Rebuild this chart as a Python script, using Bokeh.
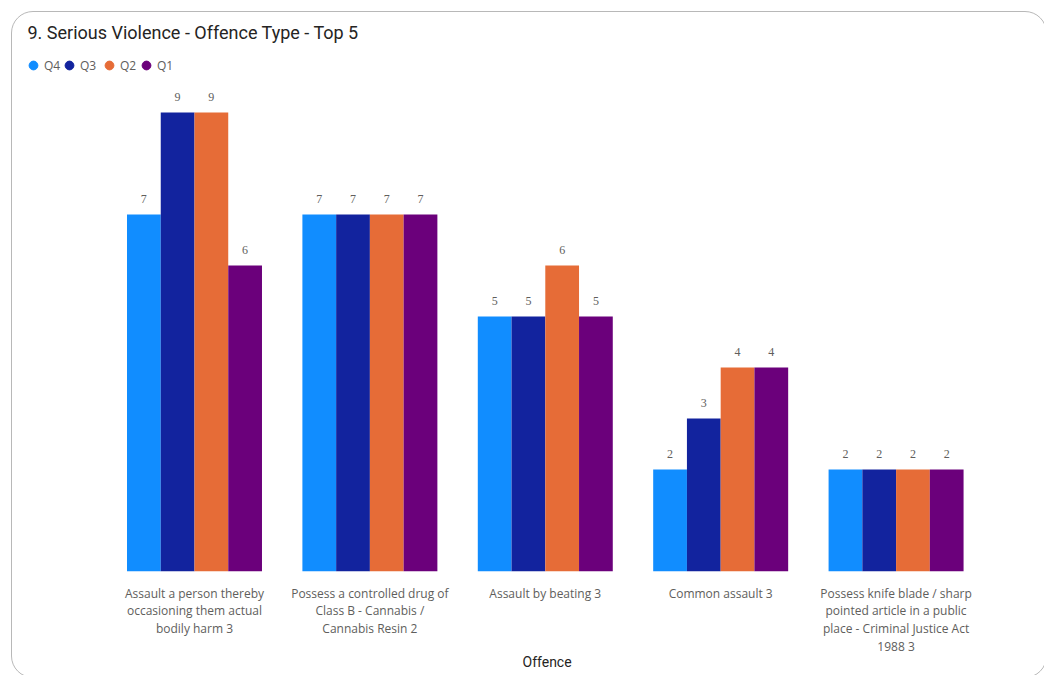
from bokeh.plotting import figure
from bokeh.models import (ColumnDataSource, Range1d, FixedTicker, LabelSet, Label,
                          Legend, LegendItem, Title, GlobalInlineStyleSheet)
from bokeh.transform import dodge
from bokeh.embed import file_html
from bokeh.resources import INLINE

# ---- data ----
offences = [
    "Assault a person thereby\noccasioning them actual\nbodily harm 3",
    "Possess a controlled drug of\nClass B - Cannabis /\nCannabis Resin 2",
    "Assault by beating 3",
    "Common assault 3",
    "Possess knife blade / sharp\npointed article in a public\nplace - Criminal Justice Act\n1988 3",
]
series = ["Q4", "Q3", "Q2", "Q1"]
q4 = [7, 7, 5, 2, 2]
q3 = [9, 7, 5, 3, 2]
q2 = [9, 7, 6, 4, 2]
q1 = [6, 7, 5, 4, 2]
colors = ["#118DFF", "#12239E", "#E66C37", "#6B007B"]

values = {"Q4": q4, "Q3": q3, "Q2": q2, "Q1": q1}
xs = list(range(len(offences)))
src = ColumnDataSource(dict(x=xs, **values))

W, H = 1036, 667
p = figure(width=W, height=H, output_backend="svg", toolbar_location=None,
           x_range=Range1d(-1.0376, 4.869), y_range=Range1d(0, 10.96),
           y_axis_location=None, min_border_left=0, min_border_right=0,
           min_border_top=0, min_border_bottom=108)
p.margin = (11, 0, 0, 11)
p.styles = {"border": "1.5px solid #b8b8b8", "border-radius": "22px"}
p.stylesheets = [GlobalInlineStyleSheet(css="html, body { overflow: hidden; }")]
p.grid.visible = False
p.outline_line_color = None
p.background_fill_color = None
p.border_fill_color = None

bw = 0.1924
offsets = [-1.5 * bw, -0.5 * bw, 0.5 * bw, 1.5 * bw]
legend_x = [10, 46, 86, 123]
for s, c, off, lx in zip(series, colors, offsets, legend_x):
    xd = dodge("x", off, range=p.x_range)
    p.vbar(x=xd, top=s, width=bw, source=src, fill_color=c, line_color=None)
    p.add_layout(LabelSet(x=xd, y=s, text=s, source=src,
                          text_align="center", text_baseline="bottom", y_offset=11,
                          text_font="Open Sans", text_font_size="12px",
                          text_color="#605E5C"))
    # marker renderer only used for the circular legend swatch
    r = p.scatter(x=xd, y=s, source=src, marker="circle", size=0,
                  fill_color=c, line_color=c)
    p.add_layout(Legend(items=[LegendItem(label=s, renderers=[r])],
                        orientation="horizontal", location=(lx, 495),
                        glyph_width=22, glyph_height=22, label_standoff=-6,
                        padding=0, margin=0, border_line_color=None,
                        background_fill_alpha=0,
                        label_text_font="Open Sans", label_text_font_size="12px",
                        label_text_color="#605E5C"))

# x axis
ax = p.xaxis[0]
ax.ticker = FixedTicker(ticks=xs)
ax.major_label_overrides = {i: t for i, t in zip(xs, offences)}
ax.axis_line_color = None
ax.major_tick_line_color = None
ax.minor_tick_line_color = None
ax.major_label_standoff = 7
ax.major_label_text_font = "Open Sans"
ax.major_label_text_font_size = "12px"
ax.major_label_text_color = "#605E5C"
ax.major_label_text_line_height = 1.04

# axis title (as a below-panel title so it can be shifted like the original)
p.add_layout(Title(text="Offence", align="left", offset=510, standoff=-12,
                   text_font="Roboto", text_font_size="14px",
                   text_font_style="normal", text_color="#252423"), "below")

# chart title
p.add_layout(Label(x=14, y=8, x_units="canvas", y_units="canvas",
                   text="9. Serious Violence - Offence Type - Top 5",
                   text_font="Roboto", text_font_size="18px", text_color="#252423",
                   text_baseline="top"))

open("out.html", "w").write(file_html(p, INLINE))
